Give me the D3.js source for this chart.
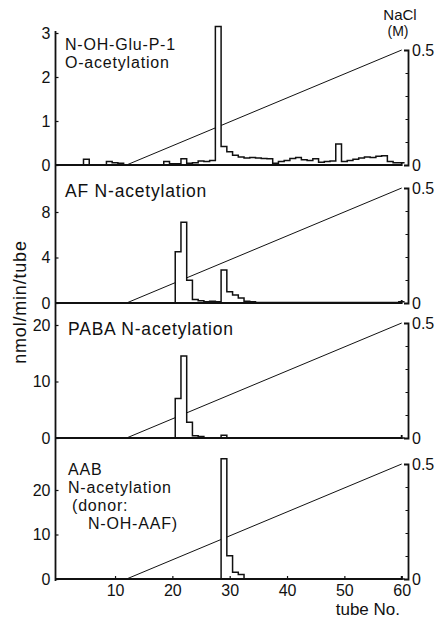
<!DOCTYPE html>
<html>
<head>
<meta charset="utf-8">
<script src="https://cdn.jsdelivr.net/npm/d3@7"></script>
<style>
  body { margin: 0; background: #fff; }
  svg { display: block; font-family: "Liberation Sans", Arial, sans-serif; }
</style>
</head>
<body>
<svg id="chart" width="443" height="619"></svg>
<script>
// activity per tube (tubes 1..60), nmol/min/tube
const gluActivity = [
  0, 0, 0, 0, 0.13, 0, 0, 0, 0.08, 0.05,
  0.04, 0, 0, 0, 0, 0, 0, 0, 0.08, 0.03,
  0.03, 0.14, 0.04, 0.05, 0.09, 0.08, 0.1, 3.15, 0.42, 0.3,
  0.22, 0.18, 0.16, 0.17, 0.16, 0.15, 0.14, 0.04, 0.08, 0.1,
  0.15, 0.17, 0.12, 0.1, 0.14, 0.06, 0.08, 0.09, 0.48, 0.08,
  0.1, 0.13, 0.16, 0.18, 0.17, 0.2, 0.21, 0.08, 0.05, 0.05
]
const afActivity = [
  0, 0, 0, 0, 0, 0, 0, 0, 0, 0,
  0, 0, 0, 0, 0, 0, 0, 0, 0, 0,
  4.5, 7.1, 2.0, 0.3, 0.2, 0.1, 0.15, 0.1, 2.9, 1.0,
  0.7, 0.45, 0.15, 0.1, 0.05, 0.05, 0.05, 0.05, 0.05, 0.05,
  0.05, 0.05, 0.05, 0.05, 0.05, 0.05, 0.05, 0.05, 0.05, 0.05,
  0.05, 0.05, 0.05, 0.05, 0.05, 0.05, 0.05, 0.05, 0.05, 0.1
]
const pabaActivity = [
  0, 0, 0, 0, 0, 0, 0, 0, 0, 0,
  0, 0, 0, 0, 0, 0, 0, 0, 0, 0,
  7.0, 14.5, 2.8, 0.4, 0.25, 0, 0, 0, 0.5, 0,
  0, 0, 0, 0, 0, 0, 0, 0, 0, 0,
  0, 0, 0, 0, 0, 0, 0, 0, 0, 0,
  0, 0, 0, 0, 0, 0, 0, 0, 0, 0
]
const aabActivity = [
  0, 0, 0, 0, 0, 0, 0, 0, 0, 0,
  0, 0, 0, 0, 0, 0, 0, 0, 0, 0,
  0, 0, 0, 0, 0, 0, 0, 0, 27, 5.2,
  1.5, 1.0, 0, 0, 0, 0, 0, 0, 0, 0,
  0, 0, 0, 0, 0, 0, 0, 0, 0, 0,
  0, 0, 0, 0, 0, 0, 0, 0, 0, 0
]

// NaCl linear gradient (tube No. -> M)
const naclTubes = [12, 60]
const naclConc = [0, 0.5]
const naclTicks = [0, 0.1, 0.2, 0.3, 0.4, 0.5]

const gluTicks = [0, 1, 2, 3]
const afTicks = [0, 4, 8]
const pabaTicks = [0, 10, 20]
const aabTicks = [0, 10, 20]
const tubeTicks = [10, 20, 30, 40, 50, 60]

const gluTitle = ["N-OH-Glu-P-1", "O-acetylation"]
const afTitle = ["AF N-acetylation"]
const pabaTitle = ["PABA N-acetylation"]
const aabTitle = ["AAB", "N-acetylation", "(donor:", "N-OH-AAF)"]

const svg = d3.select("#chart")
const ink = "#111"

const x = d3.scaleLinear().domain([0, 60]).range([57.7, 401.7])
const leftX = 55.5
const rightX = 408

// panel layout: baseline y, y of top tick, title placement
const panels = [
  { data: gluActivity, ticks: gluTicks, title: gluTitle, base: 165, top: 33, tx: [65, 65], ty: 50, fs: 16, lh: 18 },
  { data: afActivity, ticks: afTicks, title: afTitle, base: 303, top: 212, tx: [65], ty: 197, fs: 17.5, lh: 18 },
  { data: pabaActivity, ticks: pabaTicks, title: pabaTitle, base: 438, top: 325, tx: [68], ty: 335, fs: 17.5, lh: 18 },
  { data: aabActivity, ticks: aabTicks, title: aabTitle, base: 579, top: 490, tx: [68, 68, 72, 88], ty: 475, fs: 16, lh: 18 }
]

panels.forEach((p, pi) => {
  const tmax = p.ticks[p.ticks.length - 1]
  const y = d3.scaleLinear().domain([0, tmax]).range([p.base, p.top])
  const yR = d3.scaleLinear().domain([0, 0.5]).range([p.base, p.base - 115])
  const g = svg.append("g")

  // NaCl gradient
  const grad = naclTubes.map((t, i) => [t, naclConc[i]])
  g.append("path")
    .attr("d", d3.line().x(d => x(d[0])).y(d => yR(d[1]))(grad))
    .attr("fill", "none")
    .attr("stroke", ink)
    .attr("stroke-width", 1)

  // step histogram, one step per tube
  const steps = []
  p.data.forEach((v, i) => {
    const t = i + 1
    steps.push([t - 0.5, v], [t + 0.5, v])
  })
  g.append("path")
    .attr("d", d3.area().x(d => x(d[0])).y0(y(0)).y1(d => y(d[1]))(steps))
    .attr("fill", "#fff")
  g.append("path")
    .attr("d", d3.line().x(d => x(d[0])).y(d => y(d[1]))(steps))
    .attr("fill", "none")
    .attr("stroke", ink)
    .attr("stroke-width", 1.5)

  // baseline with an end tick
  g.append("path")
    .attr("d", `M${leftX},${p.base}H${x(60)}V${p.base - 3}`)
    .attr("fill", "none")
    .attr("stroke", ink)
    .attr("stroke-width", 1.8)

  // left axis ticks + labels
  const la = g.append("g")
    .attr("transform", `translate(${leftX},0)`)
    .call(d3.axisLeft(y).tickValues(p.ticks).tickSizeInner(-3).tickSizeOuter(0).tickPadding(5).tickFormat(d3.format("d")))
  la.select(".domain").remove()
  la.selectAll("line").attr("stroke", ink).attr("stroke-width", 1.2)
  la.selectAll("text").attr("font-size", 16).attr("fill", ink).attr("font-family", null)

  // right NaCl axis, bracket shaped
  const ra = g.append("g")
    .attr("transform", `translate(${rightX},0)`)
    .call(d3.axisRight(yR).tickValues(naclTicks).tickSizeInner(-2.5).tickSizeOuter(-4).tickPadding(4)
      .tickFormat(d => (d === 0 || d === 0.5) ? d3.format("")(d) : ""))
  ra.select(".domain").attr("stroke", ink).attr("stroke-width", 1.8)
  ra.selectAll("line").attr("stroke", ink).attr("stroke-width", 1)
  ra.selectAll("text").attr("font-size", 16).attr("fill", ink).attr("font-family", null)

  // title, one text block with a line per tspan
  const tt = g.append("text")
    .attr("font-size", p.fs)
    .attr("letter-spacing", 0.8)
    .attr("fill", ink)
  p.title.forEach((s, i) => {
    tt.append("tspan")
      .attr("x", p.tx[i])
      .attr("y", p.ty + i * p.lh)
      .text(s)
  })

  // bottom axis only on the last panel
  if (pi === panels.length - 1) {
    const xa = g.append("g")
      .attr("transform", `translate(0,${p.base})`)
      .call(d3.axisBottom(x).tickValues(tubeTicks).tickSizeInner(-3).tickSizeOuter(0).tickPadding(6))
    xa.select(".domain").remove()
    xa.selectAll("line").attr("stroke", ink).attr("stroke-width", 1.2)
    xa.selectAll("text").attr("font-size", 16).attr("fill", ink).attr("font-family", null)
  }
})

// continuous left axis line
svg.append("line")
  .attr("x1", leftX).attr("x2", leftX)
  .attr("y1", 31).attr("y2", 581)
  .attr("stroke", ink).attr("stroke-width", 1.8)

// axis titles
svg.append("text")
  .attr("transform", "translate(20,302) rotate(-90)")
  .attr("text-anchor", "middle")
  .attr("dy", "0.35em")
  .attr("font-size", 18)
  .attr("letter-spacing", 0.8)
  .attr("fill", ink)
  .text("nmol/min/tube")

svg.append("text")
  .attr("x", 400).attr("y", 615)
  .attr("text-anchor", "end")
  .attr("font-size", 17)
  .attr("fill", ink)
  .text("tube No.")

svg.append("text")
  .attr("x", 400).attr("y", 20)
  .attr("text-anchor", "middle")
  .attr("font-size", 15)
  .attr("fill", ink)
  .text("NaCl")
svg.append("text")
  .attr("x", 398).attr("y", 36)
  .attr("text-anchor", "middle")
  .attr("font-size", 14)
  .attr("fill", ink)
  .text("(M)")
</script>
</body>
</html>
